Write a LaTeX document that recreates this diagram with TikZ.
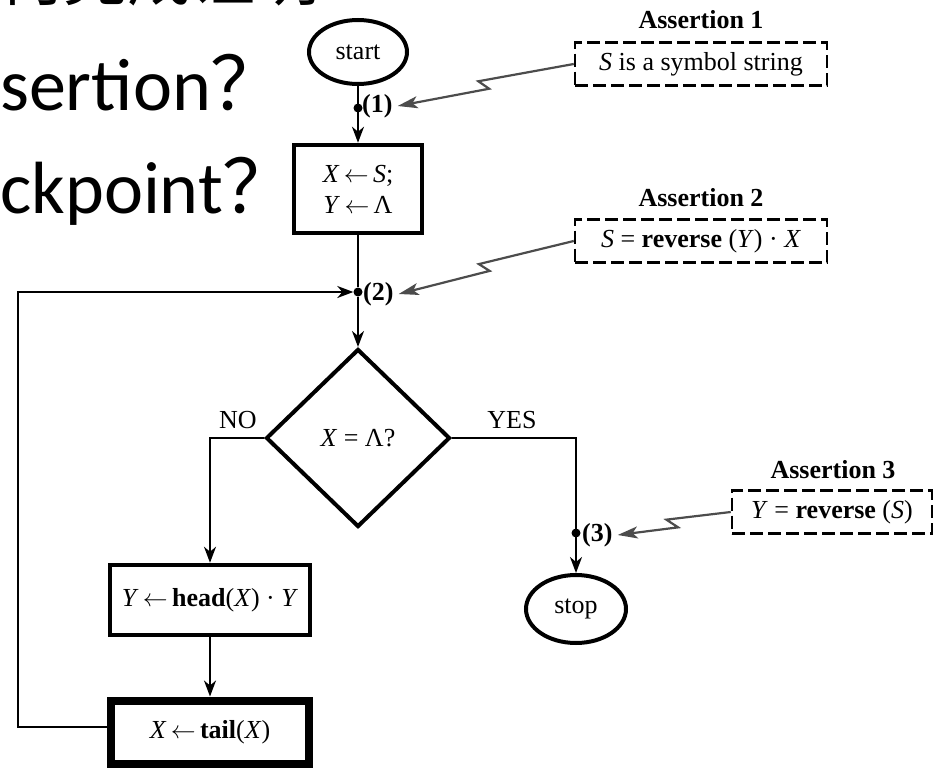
\documentclass[tikz,border=0pt]{standalone}
\usepackage{fontspec}
\setmainfont{Liberation Serif}
\newfontfamily\slidefont{Carlito}
\newfontfamily\cjkfont{Noto Sans CJK SC}
\usetikzlibrary{arrows.meta,shapes.geometric,calc}
\newcommand{\getsto}{\,$\leftarrow$\,}

\begin{document}
\begin{tikzpicture}[x=1pt,y=-1pt,
  every node/.style={font=\fontsize{26}{31}\selectfont},
  terminal/.style={draw,ellipse,line width=4pt,inner sep=0pt,minimum width=98pt,minimum height=64pt},
  stepbox/.style={draw,line width=4.5pt,inner sep=0pt,align=center},
  decision/.style={draw,diamond,line width=4pt,inner sep=0pt,minimum width=184pt,minimum height=178pt},
  check/.style={circle,fill,inner sep=0pt,minimum size=9pt},
  tag/.style={anchor=west,inner sep=1pt,font=\bfseries\fontsize{26}{31}\selectfont},
  claim/.style={draw,dash pattern=on 13pt off 5pt,line width=2.5pt,inner sep=0pt,minimum height=43pt},
  headline/.style={font=\bfseries\fontsize{26}{31}\selectfont},
  flow/.style={line width=2pt,-{Stealth[length=16pt,width=12pt,inset=5pt]}},
  zap/.style={draw=black!70,line width=2.2pt,-{Stealth[length=20pt,width=12pt,inset=5pt]}}]
\useasboundingbox (0,0) rectangle (943,771);
\clip (0,0) rectangle (943,771);
% slide text
\node[anchor=base east,inner sep=0pt,font=\cjkfont\fontsize{64}{70}\selectfont] (line1) at (320,0) {何完成证明};
\node[anchor=base west,inner sep=0pt,font=\slidefont\fontsize{74}{80}\selectfont] (line2) at (0,110) {sertion{\cjkfont ？}};
\node[anchor=base west,inner sep=0pt,font=\slidefont\fontsize{74}{80}\selectfont] (line3) at (0,213) {ckpoint{\cjkfont ？}};
% flowchart
\node[terminal] (start) at (358,52) {start};
\node[check] (c1) at (358,108) {};
\node[tag] (l1) at (361,106) {(1)};
\node[stepbox,minimum width=128pt,minimum height=88pt] (init) at (358,189) {\textit{X}\getsto\textit{S};\\\textit{Y}\getsto Λ};
\node[check] (c2) at (358,292) {};
\node[tag] (l2) at (362,294) {(2)};
\node[decision] (test) at (358,438) {\textit{X} = Λ?};
\node (no) at (238,420) {NO};
\node (yes) at (512,420) {YES};
\node[stepbox,minimum width=200pt,minimum height=70pt] (head) at (210,600) {\textit{Y}\getsto\textbf{head}(\textit{X}) · \textit{Y}};
\node[stepbox,line width=8pt,minimum width=198pt,minimum height=63pt] (tail) at (210,732) {\textit{X}\getsto\textbf{tail}(\textit{X})};
\node[check] (c3) at (576,533) {};
\node[tag] (l3) at (581,535) {(3)};
\node[terminal,minimum width=100pt,minimum height=68pt] (stop) at (576,609) {stop};
% assertions
\node[headline] (t1) at (701,20) {Assertion 1};
\node[claim,minimum width=252pt] (a1) at (701,64) {\textit{S} is a symbol string};
\node[headline] (t2) at (701,198) {Assertion 2};
\node[claim,minimum width=252pt] (a2) at (701,241) {\textit{S} = \textbf{reverse} (\textit{Y}) · \textit{X}};
\node[headline] (t3) at (833,470) {Assertion 3};
\node[claim,minimum width=200pt] (a3) at (832,512) {\textit{Y} = \textbf{reverse} (\textit{S})};
% connectors
\draw[flow] (start) -- (init);
\draw[line width=2pt] (init) -- (c2);
\draw[flow] (c2) -- (test);
\draw[flow] (test.west) -| (head);
\draw[flow] (head) -- (tail);
\draw[flow] ([yshift=5pt]tail.west) -- ++(-89,0) |- (c2);
\draw[flow] (test.east) -| (stop);
\draw[zap] (a1.west) -- ($(a1.west)!0.53!(l1.east)+(0,-5)$) -- ($(a1.west)!0.47!(l1.east)+(0,5)$) -- ([xshift=4pt]l1.east);
\draw[zap] (a2.west) -- ($(a2.west)!0.53!(l2.east)+(0,-5)$) -- ($(a2.west)!0.47!(l2.east)+(0,5)$) -- ([xshift=4pt]l2.east);
\draw[zap] (a3.west) -- ($(a3.west)!0.55!(l3.east)+(0,-5)$) -- ($(a3.west)!0.45!(l3.east)+(0,5)$) -- ([xshift=4pt]l3.east);
\end{tikzpicture}
\end{document}
